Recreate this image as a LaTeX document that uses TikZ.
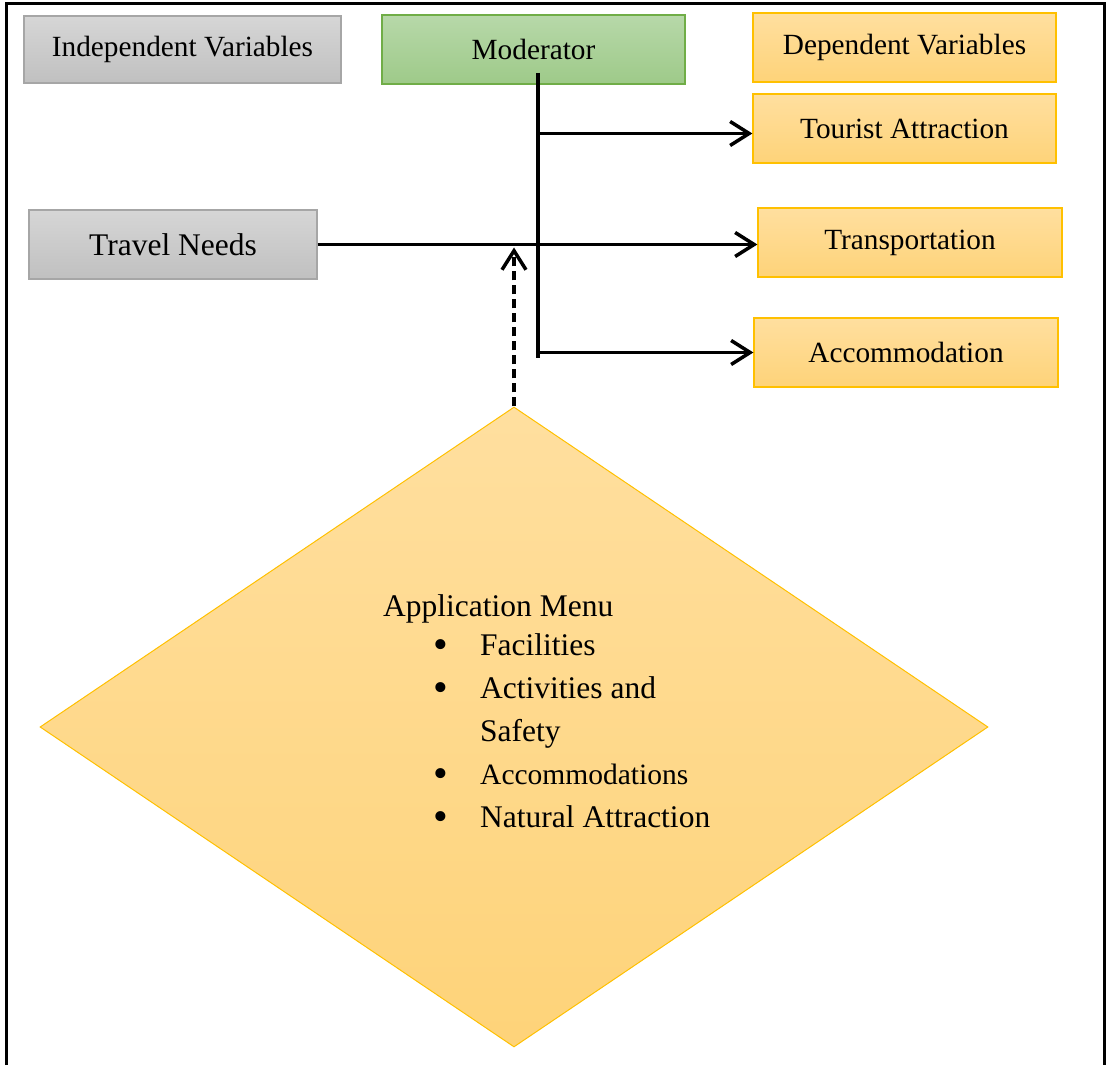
\documentclass[tikz,border=0pt]{standalone}
\usepackage{fontspec}
\setmainfont{Liberation Serif}
\usetikzlibrary{shapes.geometric,arrows.meta,positioning}

\definecolor{graytop}{HTML}{D6D6D6}
\definecolor{graybot}{HTML}{C0C0C0}
\definecolor{graydraw}{HTML}{A6A6A6}
\definecolor{greentop}{HTML}{B7D8A9}
\definecolor{greenbot}{HTML}{9ECA89}
\definecolor{greendraw}{HTML}{70AD47}
\definecolor{orangetop}{HTML}{FFDF9F}
\definecolor{orangebot}{HTML}{FED379}
\definecolor{orangedraw}{HTML}{FFC000}

\newcommand{\menubullet}{\hspace*{50pt}\makebox[47pt][l]{\raisebox{-3pt}{\fontsize{42}{42}\selectfont\textbullet}}}

\begin{document}
\begin{tikzpicture}[x=1pt, y=1pt, node distance=100pt, varbox/.style={rectangle, line width=1.2pt, minimum width=303pt, minimum height=69pt, font=\fontsize{29.3}{35}\selectfont}, indbox/.style={varbox, draw=graydraw, top color=graytop, bottom color=graybot}, modbox/.style={varbox, draw=greendraw, top color=greentop, bottom color=greenbot}, depbox/.style={varbox, draw=orangedraw, top color=orangetop, bottom color=orangebot}, link/.style={line width=3.5pt, -{Straight Barb[length=19pt,width=24pt]}}]

\useasboundingbox (0,0) rectangle (1110,1065);
\draw[line width=3pt] (6,0) -- (6,1061) -- (1104,1061) -- (1104,0);

\node[indbox, minimum width=317pt, minimum height=67pt] (indep) at (182.5,1015.5) {Independent Variables};
\node[modbox, right of=indep, node distance=351pt] (moderator) {Moderator};
\node[depbox, right of=moderator, node distance=371pt, yshift=2pt] (depvar) {Dependent Variables};
\node[depbox, below of=depvar, node distance=81pt] (tourist) {Tourist Attraction};
\node[depbox, below of=tourist, node distance=114pt, xshift=5.5pt, minimum width=304pt] (transport) {Transportation};
\node[depbox, below of=transport, node distance=110pt, xshift=-4pt, minimum width=304pt] (accom) {Accommodation};
\node[indbox, below of=indep, node distance=195pt, xshift=-9.5pt, minimum width=288pt, font=\fontsize{31.5}{37}\selectfont] (travel) {Travel Needs};
\node[diamond, draw=orangedraw, line width=1pt, top color=orangetop, bottom color=orangebot, minimum width=948pt, minimum height=640pt, inner sep=0pt] (appmenu) at (514,338) {};
\node[anchor=north west, align=left, inner sep=0pt, font=\fontsize{31.5}{43}\selectfont] (menutext) at (383,471) {Application Menu\\[-4pt]
\menubullet Facilities\\
\menubullet Activities and\\
\hspace*{97pt}Safety\\
\menubullet{\fontsize{29.5}{43}\selectfont Accommodations}\\
\menubullet Natural Attraction};

\coordinate (modtop) at (538,992);
\coordinate (modbot) at (538,707);
\coordinate (touristin) at ([yshift=-5pt]tourist.west);
\coordinate (needsin) at ([yshift=-3pt]appmenu.north |- travel.east);

\draw[line width=3.5pt] (modtop) -- (modbot);
\draw[link] (modtop |- touristin) -- (touristin);
\draw[link] (travel.east) -- (travel.east -| transport.west);
\draw[link] (modbot |- accom.west) -- (accom.west);
\draw[link, line width=3.5pt, dash pattern=on 9pt off 5pt] (appmenu.north) -- (needsin);

\end{tikzpicture}
\end{document}
